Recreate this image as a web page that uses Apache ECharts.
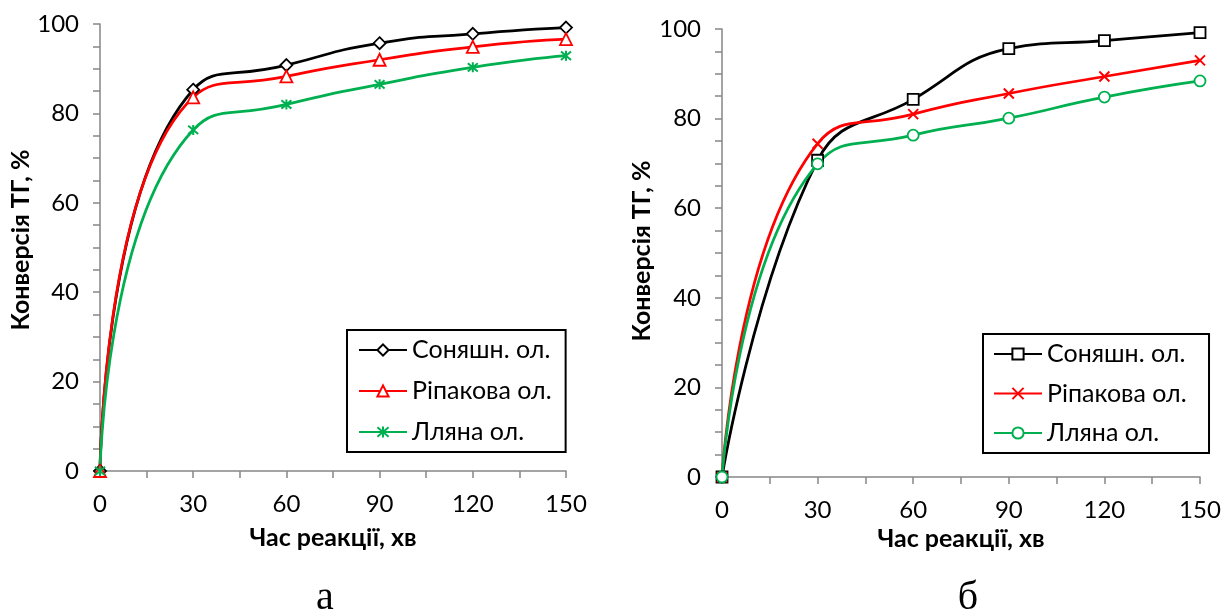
<!DOCTYPE html>
<html>
<head>
<meta charset="utf-8">
<script src="https://cdn.jsdelivr.net/npm/echarts@6/dist/echarts.min.js"></script>
<style>
html,body{margin:0;padding:0;background:#fff;}
#chart{width:1229px;height:613px;}
</style>
</head>
<body>
<div id="chart"></div>
<script>
// ---- data ----
const times = [0, 30, 60, 90, 120, 150];
const xTicks = [0, 30, 60, 90, 120, 150];
const yTicks = [0, 20, 40, 60, 80, 100];
const seriesNames = ['Соняшн. ол.', 'Ріпакова ол.', 'Лляна ол.'];

// chart а
const aSunflower = [0, 85.3, 90.8, 95.7, 97.8, 99.2];
const aRapeseed  = [0, 83.6, 88.3, 92.0, 94.9, 96.6];
const aLinseed   = [0, 76.3, 82.0, 86.5, 90.3, 92.9];
// chart б
const bSunflower = [0, 70.7, 84.3, 95.6, 97.4, 99.2];
const bRapeseed  = [0, 74.4, 81.0, 85.6, 89.4, 93.0];
const bLinseed   = [0, 69.9, 76.3, 80.1, 84.8, 88.4];

const captions = ['а', 'б'];
const xName = 'Час реакції, хв';
const yName = 'Конверсія ТГ, %';

// ---- styling ----
const BLACK = '#000000', RED = '#FF0000', GREEN = '#00B050';
const AXIS = '#868686';
const FONT = 'Lato';
const STAR = 'path://M0,0L10,10M10,0L0,10M5,-1L5,11';
const CROSS = 'path://M0,0L10,10M10,0L0,10';

function pairs(vals) { return times.map((t, i) => [t, vals[i]]); }

function xAxisCfg(gridIndex, nameGap) {
  return {
    gridIndex, type: 'value', min: xTicks[0], max: xTicks[xTicks.length - 1], interval: 30,
    name: xName, nameLocation: 'middle', nameGap,
    nameTextStyle: { fontFamily: FONT, fontWeight: 'bold', fontSize: 25, color: '#000' },
    axisLine: { show: true, lineStyle: { color: AXIS, width: 1.5 } },
    axisTick: { show: true, length: 7, lineStyle: { color: AXIS, width: 1.5 } },
    minorTick: { show: true, splitNumber: 2, length: 7, lineStyle: { color: AXIS, width: 1.5 } },
    axisLabel: { fontFamily: FONT, fontSize: 24, color: '#000', margin: 21 },
    splitLine: { show: false }
  };
}
function yAxisCfg(gridIndex, nameGap, padShift) {
  return {
    gridIndex, type: 'value', min: yTicks[0], max: yTicks[yTicks.length - 1], interval: 20,
    name: yName, nameLocation: 'middle', nameGap, nameRotate: 90,
    nameTextStyle: { fontFamily: FONT, fontWeight: 'bold', fontSize: 25, color: '#000', padding: [0, 0, 0, padShift] },
    axisLine: { show: true, lineStyle: { color: AXIS, width: 1.5 } },
    axisTick: { show: true, length: 7, lineStyle: { color: AXIS, width: 1.5 } },
    minorTick: { show: true, splitNumber: 4, length: 7, lineStyle: { color: AXIS, width: 1.5 } },
    axisLabel: { fontFamily: FONT, fontSize: 24, color: '#000', margin: 21 },
    splitLine: { show: false }
  };
}
function lineSeries(name, idx, vals, color, symbol, size, hollow, smooth) {
  return {
    type: 'line', name, xAxisIndex: idx, yAxisIndex: idx,
    data: pairs(vals), smooth,
    symbol, symbolSize: size, showAllSymbol: true,
    lineStyle: { color, width: 2.75 },
    itemStyle: hollow ? { color: '#fff', borderColor: color, borderWidth: 1.8 }
                      : { color: 'transparent', borderColor: color, borderWidth: 2 },
    emphasis: { disabled: true },
    z: 3
  };
}
// right chart names get a trailing space so each legend picks its own series
const bNames = seriesNames.map(n => n + ' ');

function legendCfg(names, left, top, pad, gap) {
  return {
    orient: 'vertical', left, top, data: names,
    padding: pad, itemGap: gap, itemWidth: 48, itemHeight: 14,
    borderColor: '#000', borderWidth: 2, backgroundColor: '#fff',
    selectedMode: false,
    textStyle: { fontFamily: FONT, fontSize: 25, color: '#000', lineHeight: 26 }
  };
}

const option = {
  animation: false,
  backgroundColor: '#fff',
  grid: [
    { left: 100, top: 24, width: 466, height: 447, outerBoundsMode: 'none', containLabel: false },
    { left: 722, top: 29, width: 478, height: 448, outerBoundsMode: 'none', containLabel: false }
  ],
  xAxis: [xAxisCfg(0, 54), xAxisCfg(1, 42)],
  yAxis: [yAxisCfg(0, 63, 15), yAxisCfg(1, 68, 4)],
  legend: [
    legendCfg(seriesNames, 347, 330, [7, 14, 7, 11], 15),
    legendCfg(bNames, 983, 334, [7, 16, 7, 10], 13.5)
  ],
  series: [
    lineSeries(seriesNames[0], 0, aSunflower, BLACK, 'diamond', 12, true, 0.6),
    lineSeries(seriesNames[1], 0, aRapeseed, RED, 'triangle', 12, true, 0.6),
    lineSeries(seriesNames[2], 0, aLinseed, GREEN, STAR, 10, false, 0.6),
    lineSeries(bNames[0], 1, bSunflower, BLACK, 'rect', 11, true, 0.45),
    lineSeries(bNames[1], 1, bRapeseed, RED, CROSS, 10, false, 0.55),
    lineSeries(bNames[2], 1, bLinseed, GREEN, 'circle', 11, true, 0.55)
  ],
  graphic: [
    { type: 'text', x: 325, y: 598, style: { text: captions[0], font: '40px "Liberation Serif"', fill: '#000', textAlign: 'center', textVerticalAlign: 'middle' } },
    { type: 'text', x: 968, y: 598, style: { text: captions[1], font: '40px "Liberation Serif"', fill: '#000', textAlign: 'center', textVerticalAlign: 'middle' } }
  ]
};

const chart = echarts.init(document.getElementById('chart'), null, { renderer: 'canvas' });
chart.setOption(option);
</script>
</body>
</html>
